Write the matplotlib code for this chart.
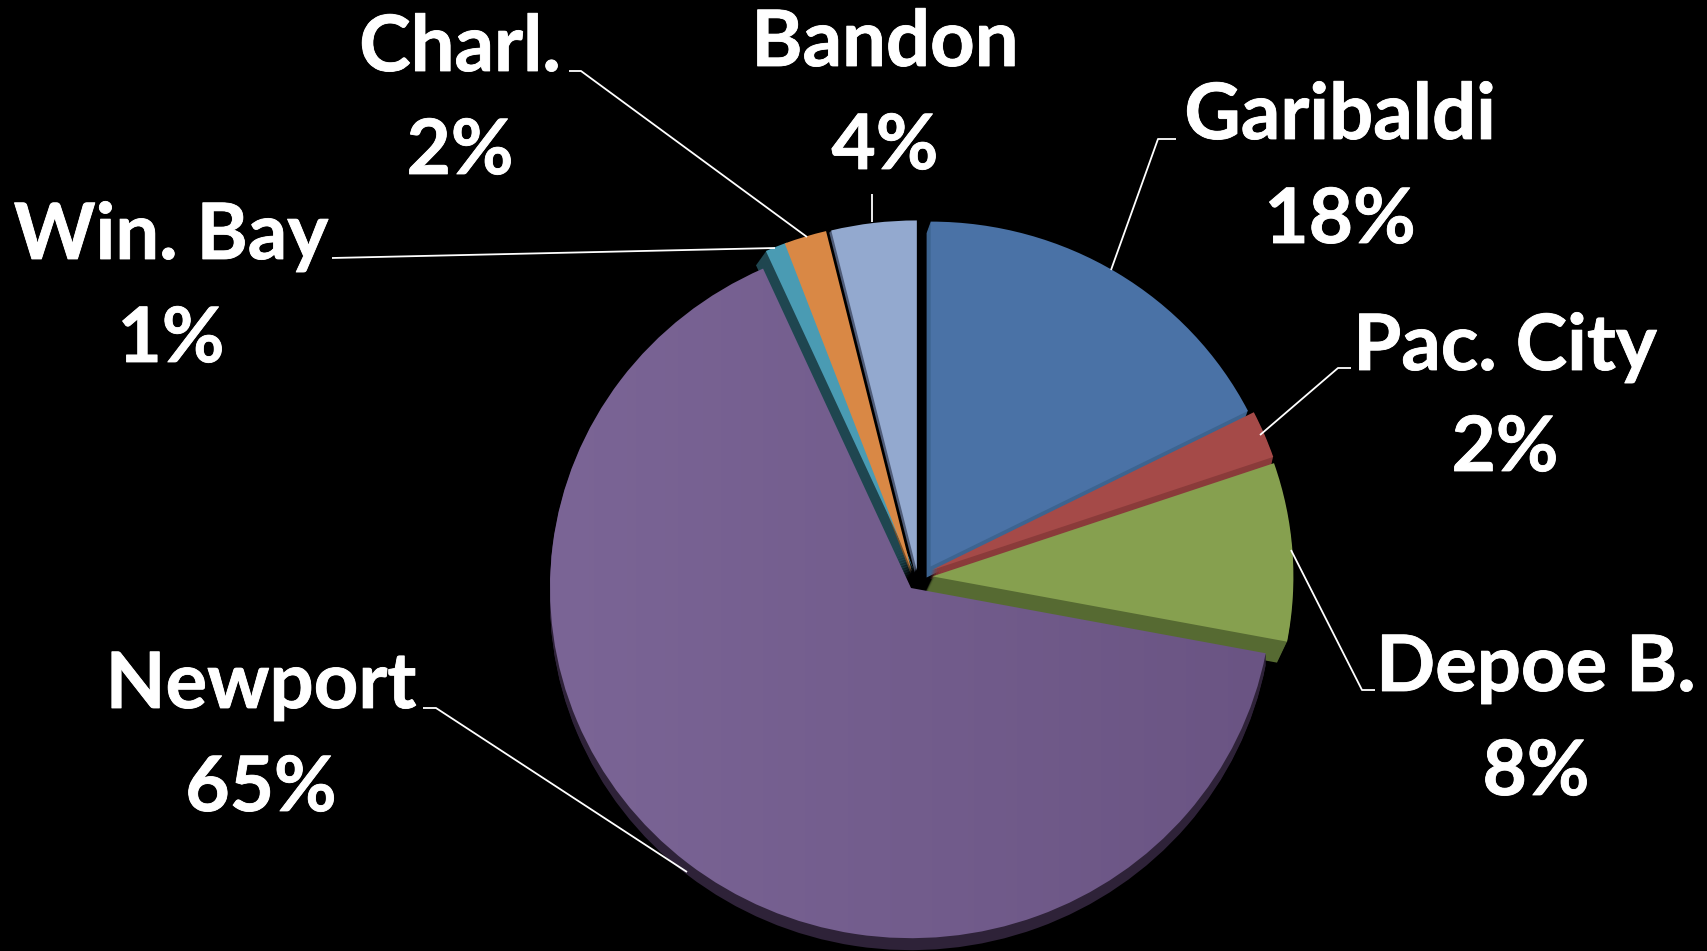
#!/usr/bin/env python3
"""Share of landings by port, drawn as an exploded pie on black."""

import matplotlib
matplotlib.use("Agg")
import matplotlib.patheffects as pe
import matplotlib.pyplot as plt
import numpy as np
from matplotlib.colors import LinearSegmentedColormap
from matplotlib.patches import Wedge

# ---------------------------------------------------------------------------
# Data
# ---------------------------------------------------------------------------
ports = ["Garibaldi", "Pac. City", "Depoe B.", "Newport", "Win. Bay", "Charl.", "Bandon"]
shares = [17.5, 2.2, 8.2, 65.1, 1.0, 1.9, 3.8]
share_labels = ["18%", "2%", "8%", "65%", "1%", "2%", "4%"]

# ---------------------------------------------------------------------------
# Style
# ---------------------------------------------------------------------------
W, H = 1708, 951
CX, CY = 911, 588       # pie centre, image pixels
RADIUS = 361
SQUASH = 0.97           # tilt of the pie

face_colors = ["#4A72A6", "#A54A48", "#86A04F", "#725A8E", "#4A9BB3", "#D98845", "#93A9CF"]
side_colors = ["#3D6490", "#8A3B3A", "#566A32", "#2E2238", "#1F4650", "#7A5028", "#4F5C78"]
explode = [0.072, 0.065, 0.065, 0.0, 0.045, 0.05, 0.05]
# perspective fudges on top of the explode, image pixels
nudge = [(6, 0), (-1, -9), (-2, -10), (0, 0), (9, -3), (6, 0), (8, 0)]
radius_scale = [0.985, 1.0, 1.0, 1.0, 1.0, 1.0, 1.0]
depth = [(-4, 11), (-2, 9), (-10, 21), (0, 12), (-10, 14), (-1, 2), (-2, 2)]

# label centres (name line, share line), image pixels
name_xy = [(1340, 117), (1505, 348), (1536, 669), (261, 686), (171, 237), (460, 49), (885, 44)]
share_xy = [(1340, 221), (1505, 449), (1536, 773), (261, 789), (171, 340), (460, 152), (885, 147)]
leaders = [
    [(1111, 270), (1158, 139), (1176, 139)],
    [(1260, 435), (1338, 368), (1351, 368)],
    [(1291, 550), (1362, 690), (1375, 690)],
    [(687, 872), (436, 708), (423, 708)],
    [(775, 248), (332, 258)],
    [(807, 237), (581, 71), (569, 71)],
    [(872, 222), (872, 194)],
]


def main() -> None:
    fig = plt.figure(figsize=(W / 100, H / 100), dpi=100, facecolor="black")

    # ── Pie, y in stretched units so the circle comes out a little flat ──
    ax = fig.add_axes([0, 0, 1, 1], facecolor="black")
    wedges, _ = ax.pie(
        shares,
        colors=face_colors,
        explode=[e * RADIUS for e in explode],  # pie takes these in data units
        startangle=90,
        counterclock=False,
        radius=RADIUS,
        center=(CX, (H - CY) / SQUASH),
        frame=True,
    )

    # ── Side faces: dark copies stepped down behind the top faces ──
    for wedge, color, (dx, dy), (nx, ny), scale in zip(
            wedges, side_colors, depth, nudge, radius_scale):
        x0, y0 = wedge.center[0] + nx, wedge.center[1] - ny / SQUASH
        wedge.set_center((x0, y0))
        wedge.set_radius(wedge.r * scale)
        wedge.set_zorder(5)
        wedge.set_linewidth(0)
        steps = max(abs(dx), abs(dy))
        for i in range(1, steps + 1):
            ax.add_patch(Wedge(
                (x0 + dx * i / steps, y0 - dy * i / steps / SQUASH),
                wedge.r, wedge.theta1, wedge.theta2,
                facecolor=color, edgecolor="none", zorder=2,
            ))

    # ── Newport fades slightly towards the right ──
    fade = LinearSegmentedColormap.from_list("fade", ["#7B6596", "#6A5483"])
    sheen = ax.imshow(np.linspace(0, 1, 256).reshape(1, -1), cmap=fade, aspect="auto",
                      extent=(CX - RADIUS, CX + RADIUS, 0, H / SQUASH), zorder=4.5)
    sheen.set_clip_path(wedges[ports.index("Newport")])
    wedges[ports.index("Newport")].set_alpha(0)

    ax.set_aspect("auto")
    ax.set_xlim(0, W)
    ax.set_ylim(0, H / SQUASH)
    ax.axis("off")

    # ── Labels in image pixels ──
    overlay = fig.add_axes([0, 0, 1, 1], facecolor="none")
    overlay.set_xlim(0, W)
    overlay.set_ylim(H, 0)
    overlay.axis("off")

    stroke = [pe.withStroke(linewidth=0.6, foreground="white")]
    for name, share, nxy, sxy, pts in zip(ports, share_labels, name_xy, share_xy, leaders):
        overlay.text(*nxy, name, color="white", fontsize=56, fontweight="bold",
                     family="Lato", ha="center", va="center", path_effects=stroke)
        overlay.text(*sxy, share, color="white", fontsize=55, fontweight="bold",
                     family="Lato", ha="center", va="center", path_effects=stroke)
        xs, ys = zip(*pts)
        overlay.plot(xs, ys, color="white", lw=1.3, solid_capstyle="butt")

    fig.savefig("out.png", dpi=100, facecolor="black")
    plt.close(fig)


if __name__ == "__main__":
    main()
